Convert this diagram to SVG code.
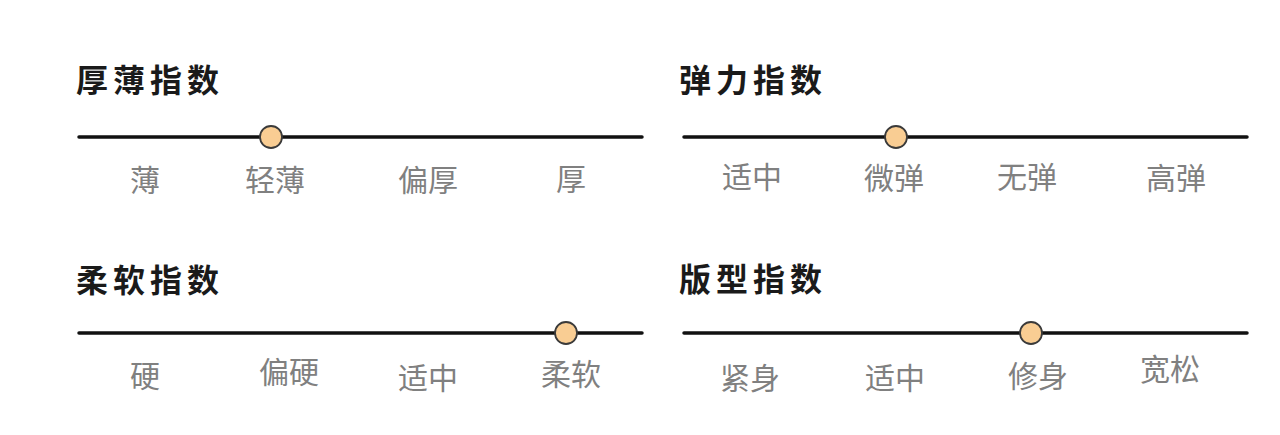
<svg xmlns="http://www.w3.org/2000/svg" width="1280" height="435" viewBox="0 0 1280 435">
<style>
.title{font-family:"Noto Sans CJK SC","Noto Sans",sans-serif;font-size:32px;font-weight:bold;fill:#1a1a1a;letter-spacing:5px}
.lbl{font-family:"Noto Sans CJK SC","Noto Sans",sans-serif;font-size:30px;fill:#808080;text-anchor:middle}
.track{stroke:#111;stroke-width:3.5;stroke-linecap:round}
.knob{fill:#F9CD93;stroke:#3a3a3a;stroke-width:1.8}
</style>
<rect width="1280" height="435" fill="#fff"/>
<g id="thickness">
<text class="title" x="76" y="92">厚薄指数</text>
<line class="track" x1="79" y1="137" x2="642" y2="137"/>
<circle class="knob" cx="271" cy="137" r="11"/>
<text class="lbl" x="145" y="191">薄</text>
<text class="lbl" x="275" y="191">轻薄</text>
<text class="lbl" x="428" y="191">偏厚</text>
<text class="lbl" x="571" y="190">厚</text>
</g>
<g id="elasticity">
<text class="title" x="679" y="92">弹力指数</text>
<line class="track" x1="684" y1="137" x2="1247" y2="137"/>
<circle class="knob" cx="896" cy="137" r="11"/>
<text class="lbl" x="752" y="188">适中</text>
<text class="lbl" x="894" y="189">微弹</text>
<text class="lbl" x="1027" y="188">无弹</text>
<text class="lbl" x="1176" y="189">高弹</text>
</g>
<g id="softness">
<text class="title" x="76" y="292">柔软指数</text>
<line class="track" x1="79" y1="333" x2="642" y2="333"/>
<circle class="knob" cx="566" cy="333" r="11"/>
<text class="lbl" x="145" y="387">硬</text>
<text class="lbl" x="289" y="383">偏硬</text>
<text class="lbl" x="428" y="389">适中</text>
<text class="lbl" x="571" y="385">柔软</text>
</g>
<g id="fit">
<text class="title" x="679" y="291">版型指数</text>
<line class="track" x1="684" y1="333" x2="1247" y2="333"/>
<circle class="knob" cx="1031" cy="333" r="11"/>
<text class="lbl" x="750" y="389">紧身</text>
<text class="lbl" x="895" y="389">适中</text>
<text class="lbl" x="1038" y="387">修身</text>
<text class="lbl" x="1170" y="380">宽松</text>
</g>
<g id="connectors"></g>
</svg>
